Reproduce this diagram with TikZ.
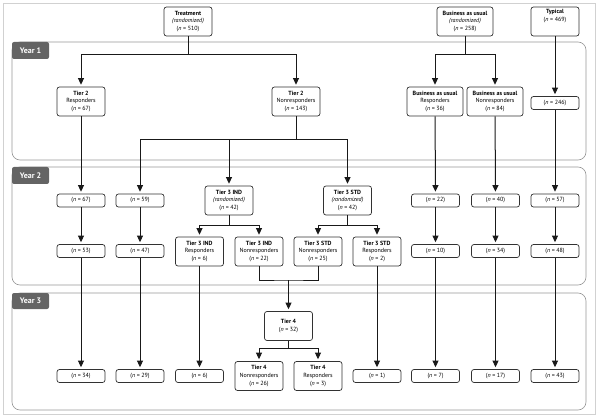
\documentclass[tikz,border=0pt]{standalone}
\usepackage{fontspec}
\setmainfont{PT Sans}
\usetikzlibrary{arrows.meta,positioning}
\definecolor{PanelGray}{RGB}{150,150,150}
\definecolor{TabGray}{RGB}{100,100,100}
\definecolor{BoxLine}{RGB}{50,50,50}

\tikzset{
    box/.style={draw=BoxLine, fill=white, rounded corners=2.5pt, line width=0.7pt,
        minimum width=48pt, minimum height=29pt, inner sep=1pt, align=center,
        font=\fontsize{6}{7.8}\selectfont},
    nbox/.style={box, minimum height=13pt},
    widebox/.style={box, minimum width=56pt},
    panel/.style={draw=PanelGray, rounded corners=8pt, line width=0.6pt},
    yeartab/.style={fill=TabGray, rounded corners=2pt},
    yearlabel/.style={text=white, font=\fontsize{8}{9}\bfseries\selectfont, anchor=center},
    link/.style={line width=1pt, draw=black!90},
    flow/.style={link, -{Triangle[length=6.5pt,width=6pt]}, shorten >=2pt}
}

\begin{document}
\begin{tikzpicture}[x=1pt, y=-1pt]
    \useasboundingbox (0,0) rectangle (600,417);
    \draw[black!18, line width=0.8pt] (3,3) rectangle (595,414);

    % Panels for the three years
    \draw[panel] (12,42) rectangle (586,160);
    \draw[panel] (12,167) rectangle (586,285);
    \draw[panel] (12,293) rectangle (586,410);
    \fill[yeartab] (12,42) rectangle (49,59);
    \fill[yeartab] (12,167) rectangle (49,184);
    \fill[yeartab] (12,293) rectangle (49,309);
    \node[yearlabel] (y1) at (30.5,50.5) {Year 1};
    \node[yearlabel] (y2) at (30.5,175.5) {Year 2};
    \node[yearlabel] (y3) at (30.5,301) {Year 3};

    % Starting groups
    \node[box] (treat) at (188,21.5) {\textbf{Treatment}\\\textit{(randomized)}\\(\textit{n} = 510)};
    \node[widebox] (bau) at (465,21.5) {\textbf{Business as usual}\\\textit{(randomized)}\\(\textit{n} = 258)};
    \node[box] (typ) at (555,21.5) {\textbf{Typical}\\(\textit{n} = 469)\\[4pt]};

    % Year 1
    \node[box] (t2r) at (81,101.5) {\textbf{Tier 2}\\Responders\\(\textit{n} = 67)};
    \node[box] (t2n) at (296,101.5) {\textbf{Tier 2}\\Nonresponders\\(\textit{n} = 143)};
    \node[widebox] (baur) at (435,101.5) {\textbf{Business as usual}\\Responders\\(\textit{n} = 36)};
    \node[widebox] (baun) at (495,101.5) {\textbf{Business as usual}\\Nonresponders\\(\textit{n} = 84)};
    \node[nbox] (n246) at (555,103) {(\textit{n} = 246)};

    % Year 2, first row
    \node[nbox] (n67) at (81,200.5) {(\textit{n} = 67)};
    \node[nbox] (n59) at (140,200.5) {(\textit{n} = 59)};
    \node[box] (t3i) at (229,200.5) {\textbf{Tier 3 IND}\\\textit{(randomized)}\\(\textit{n} = 42)};
    \node[box] (t3s) at (347.5,200.5) {\textbf{Tier 3 STD}\\\textit{(randomized)}\\(\textit{n} = 42)};
    \node[nbox] (n22) at (435.5,200.5) {(\textit{n} = 22)};
    \node[nbox] (n40) at (495.5,200.5) {(\textit{n} = 40)};
    \node[nbox] (n57) at (555,200.5) {(\textit{n} = 57)};

    % Year 2, second row
    \node[nbox] (n53) at (81,251) {(\textit{n} = 53)};
    \node[nbox] (n47) at (140,251) {(\textit{n} = 47)};
    \node[box] (t3ir) at (199.5,251.5) {\textbf{Tier 3 IND}\\Responders\\(\textit{n} = 6)};
    \node[box] (t3in) at (259,251.5) {\textbf{Tier 3 IND}\\Nonresponders\\(\textit{n} = 22)};
    \node[box] (t3sn) at (318,251.5) {\textbf{Tier 3 STD}\\Nonresponders\\(\textit{n} = 25)};
    \node[box] (t3sr) at (377,251.5) {\textbf{Tier 3 STD}\\Responders\\(\textit{n} = 2)};
    \node[nbox] (n10) at (435.5,251) {(\textit{n} = 10)};
    \node[nbox] (n34) at (495.5,251) {(\textit{n} = 34)};
    \node[nbox] (n48) at (555,251) {(\textit{n} = 48)};

    % Year 3
    \node[box] (t4) at (288.5,326) {\textbf{Tier 4}\\(\textit{n} = 32)};
    \node[box] (t4n) at (259,376) {\textbf{Tier 4}\\Nonresponders\\(\textit{n} = 26)};
    \node[box] (t4r) at (318,376) {\textbf{Tier 4}\\Responders\\(\textit{n} = 3)};
    \node[nbox] (n34b) at (81,376) {(\textit{n} = 34)};
    \node[nbox] (n29) at (140,376) {(\textit{n} = 29)};
    \node[nbox] (n6) at (199.5,376) {(\textit{n} = 6)};
    \node[nbox] (n1) at (377,376) {(\textit{n} = 1)};
    \node[nbox] (n7) at (435.5,376) {(\textit{n} = 7)};
    \node[nbox] (n17) at (495.5,376) {(\textit{n} = 17)};
    \node[nbox] (n43) at (555,376) {(\textit{n} = 43)};

    % Branch points
    \coordinate (s1) at (188,55);
    \coordinate (s2) at (296,140);
    \coordinate (s3) at (229,225);
    \coordinate (s4) at (347.5,225);
    \coordinate (s5) at (465,55);
    \coordinate (m4) at (288.5,280);
    \coordinate (s6) at (288.5,348);

    % Connectors
    \draw[link] (treat) -- (s1);
    \draw[flow] (s1) -| (t2r);
    \draw[flow] (s1) -| (t2n);
    \draw[link] (bau) -- (s5);
    \draw[flow] (s5) -| (baur);
    \draw[flow] (s5) -| (baun);
    \draw[flow] (typ) -- (n246);

    \draw[link] (t2n) -- (s2);
    \draw[flow] (s2) -| (n59);
    \draw[flow] (s2) -| (t3i);
    \draw[flow] (s2) -| (t3s);
    \draw[link] (t3i) -- (s3);
    \draw[flow] (s3) -| (t3ir);
    \draw[flow] (s3) -| (t3in);
    \draw[link] (t3s) -- (s4);
    \draw[flow] (s4) -| (t3sn);
    \draw[flow] (s4) -| (t3sr);

    \draw[flow] (t2r) -- (n67);
    \draw[flow] (n67) -- (n53);
    \draw[flow] (n53) -- (n34b);
    \draw[flow] (n59) -- (n47);
    \draw[flow] (n47) -- (n29);
    \draw[flow] (t3ir) -- (n6);
    \draw[flow] (t3sr) -- (n1);
    \draw[flow] (baur) -- (n22);
    \draw[flow] (n22) -- (n10);
    \draw[flow] (n10) -- (n7);
    \draw[flow] (baun) -- (n40);
    \draw[flow] (n40) -- (n34);
    \draw[flow] (n34) -- (n17);
    \draw[flow] (n246) -- (n57);
    \draw[flow] (n57) -- (n48);
    \draw[flow] (n48) -- (n43);

    \draw[link] (t3in.south) |- (m4) -| (t3sn.south);
    \draw[flow] (m4) -- (t4);
    \draw[link] (t4) -- (s6);
    \draw[flow] (s6) -| (t4n);
    \draw[flow] (s6) -| (t4r);
\end{tikzpicture}
\end{document}
